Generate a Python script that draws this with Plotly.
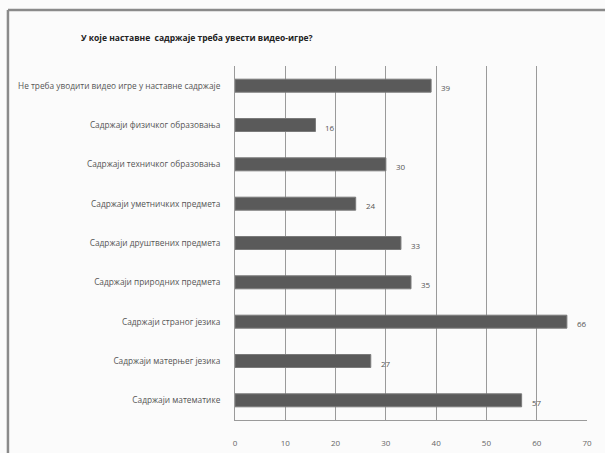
import plotly.graph_objects as go

categories = [
    "Садржаји математике",
    "Садржаји матерњег језика",
    "Садржаји страног језика",
    "Садржаји природних предмета",
    "Садржаји друштвених предмета",
    "Садржаји уметничких предмета",
    "Садржаји техничког образовања",
    "Садржаји физичког образовања",
    "Не треба уводити видео игре у наставне садржаје",
]
values = [57, 27, 66, 35, 33, 24, 30, 16, 39]
x_ticks = [0, 10, 20, 30, 40, 50, 60, 70]
title_text = "У које наставне  садржаје треба увести видео-игре?"

FONT = "Open Sans"

fig = go.Figure()
fig.add_trace(go.Bar(
    y=categories, x=values, orientation="h",
    marker=dict(color="#5a5a5a", line=dict(color="#7a7a7a", width=1)),
    hoverinfo="skip",
))

for c, v in zip(categories, values):
    fig.add_annotation(x=v, y=c, text=str(v), showarrow=False,
                       xanchor="left", yanchor="middle", xshift=8, yshift=-2,
                       font=dict(family=FONT, size=8, color="#555555"))

fig.add_annotation(xref="paper", yref="paper", x=-0.443, y=1.0, yshift=29,
                   text="<b>" + title_text.replace("  ", "&nbsp; ") + "</b>",
                   showarrow=False, xanchor="left", yanchor="middle",
                   font=dict(family=FONT, size=8.5, color="#222222"))

# outer frame (top and left edges)
fig.add_shape(type="line", xref="paper", yref="paper", x0=-0.645, x1=1.1, y0=1.158, y1=1.158,
              line=dict(color="#8a8a8a", width=2.5))
fig.add_shape(type="line", xref="paper", yref="paper", x0=-0.645, x1=-0.645, y0=1.158, y1=-0.2,
              line=dict(color="#8a8a8a", width=2.5))

fig.update_layout(
    width=605, height=453,
    margin=dict(l=235, r=18, t=66, b=33),
    paper_bgcolor="#fbfbfb", plot_bgcolor="#fbfbfb",
    showlegend=False, bargap=0.67,
    font=dict(family=FONT, color="#555555"),
)
fig.update_xaxes(range=[0, 70], tickvals=x_ticks, ticktext=[str(t) for t in x_ticks],
                 showgrid=True, gridcolor="#9a9a9a", gridwidth=1,
                 zeroline=False, showline=True, linecolor="#9a9a9a", linewidth=1,
                 tickfont=dict(family=FONT, size=8, color="#666666"),
                 ticks="", ticklabelstandoff=15, automargin=False, fixedrange=True)
fig.update_yaxes(showgrid=False, zeroline=False, showline=True, linecolor="#9a9a9a", linewidth=1,
                 tickfont=dict(family=FONT, size=8.3, color="#555555"),
                 ticks="", ticklabelstandoff=12, automargin=False, fixedrange=True)

fig.write_html("out.html")
